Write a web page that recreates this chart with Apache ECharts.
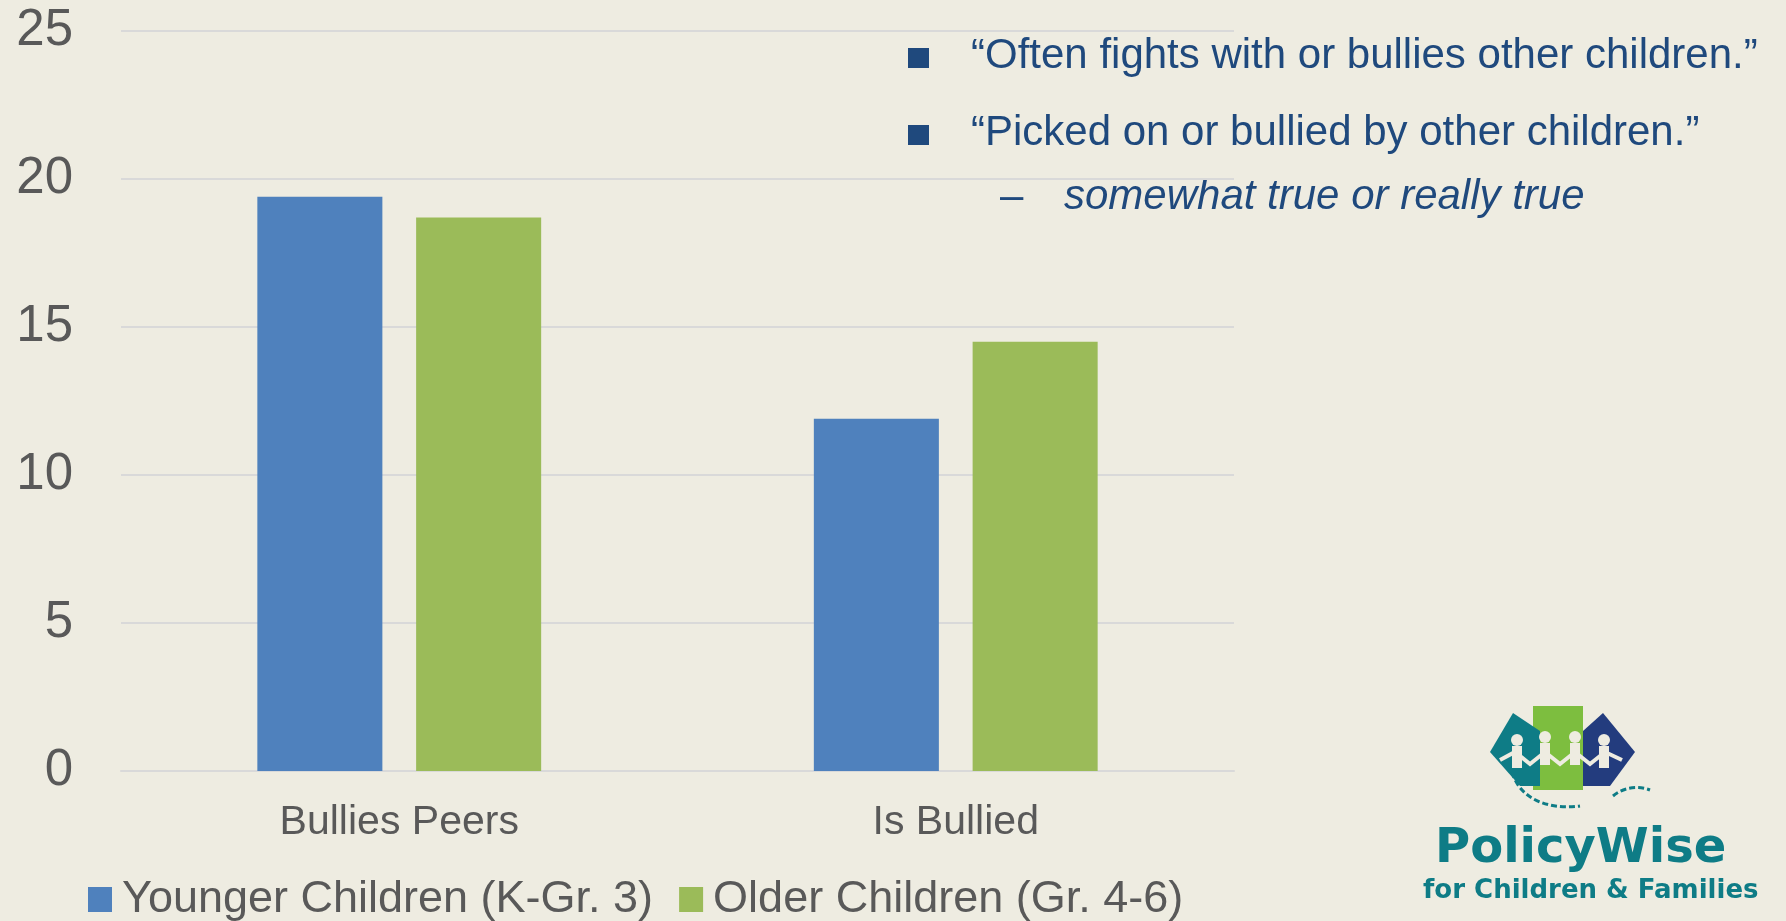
<!DOCTYPE html>
<html>
<head>
<meta charset="utf-8">
<script src="https://cdn.jsdelivr.net/npm/echarts@6/dist/echarts.min.js"></script>
<style>
  html, body { margin: 0; padding: 0; background: #EEECE1; }
  #chart { width: 1786px; height: 921px; }
</style>
</head>
<body>
<div id="chart"></div>
<script>
var categories = ['Bullies Peers', 'Is Bullied'];
var seriesNames = ['Younger Children (K-Gr. 3)', 'Older Children (Gr. 4-6)'];
var younger = [19.4, 11.9];
var older = [18.7, 14.5];
var yMin = 0, yMax = 25, yStep = 5;

var notes = [
  '\u201COften fights with or bullies other children.\u201D',
  '\u201CPicked on or bullied by other children.\u201D'
];
var subNote = 'somewhat true or really true';

var chartDom = document.getElementById('chart');
var myChart = echarts.init(chartDom);

var txtFont = '"Liberation Sans", Arial, sans-serif';
var navy = '#1F497D';
var teal = '#0E7C86';

var option = {
  backgroundColor: '#EEECE1',
  animation: false,
  grid: { left: 121, right: 552, top: 31, bottom: 150 },
  legend: {
    left: 83,
    top: 872,
    itemWidth: 24,
    itemHeight: 25,
    itemGap: 26,
    icon: 'rect',
    textStyle: { fontFamily: txtFont, fontSize: 45, color: '#595959', padding: [0, 0, 0, 5] },
    data: seriesNames
  },
  xAxis: {
    type: 'category',
    data: categories,
    axisLine: { lineStyle: { color: '#D9D9D9', width: 2 } },
    axisTick: { show: false },
    axisLabel: { fontFamily: txtFont, fontSize: 41, color: '#595959', margin: 31 }
  },
  yAxis: {
    type: 'value',
    min: yMin,
    max: yMax,
    interval: yStep,
    axisLine: { show: false },
    axisTick: { show: false },
    splitLine: { lineStyle: { color: '#D9D9D9', width: 2 } },
    axisLabel: { fontFamily: txtFont, fontSize: 51, color: '#595959', margin: 48 }
  },
  series: [
    {
      name: seriesNames[0],
      type: 'bar',
      data: younger,
      color: '#4F81BD',
      barGap: '27%',
      barCategoryGap: '49%'
    },
    {
      name: seriesNames[1],
      type: 'bar',
      data: older,
      color: '#9BBB59'
    }
  ],
  graphic: [
    // bullet notes
    { type: 'rect', shape: { x: 908, y: 48, width: 21, height: 20 }, style: { fill: navy } },
    { type: 'rect', shape: { x: 908, y: 125, width: 21, height: 20 }, style: { fill: navy } },
    { type: 'text', x: 971, y: 56, style: { text: notes[0], font: '42px ' + txtFont, fill: navy, verticalAlign: 'middle' } },
    { type: 'text', x: 971, y: 133, style: { text: notes[1], font: '42px ' + txtFont, fill: navy, verticalAlign: 'middle' } },
    { type: 'text', x: 1000, y: 197, style: { text: '\u2013', font: '42px ' + txtFont, fill: navy, verticalAlign: 'middle' } },
    { type: 'text', x: 1064, y: 197, style: { text: subNote, font: 'italic 42px ' + txtFont, fill: navy, verticalAlign: 'middle' } },

    // logo mark
    { type: 'rect', shape: { x: 1533, y: 706, width: 50, height: 84 }, style: { fill: '#7DBE3F' } },
    { type: 'polygon', shape: { points: [[1513, 713], [1540, 731], [1540, 786], [1520, 786], [1490, 752]] }, style: { fill: teal } },
    { type: 'polygon', shape: { points: [[1603, 713], [1583, 731], [1583, 786], [1610, 786], [1635, 752]] }, style: { fill: '#233C7E' } },
    { type: 'polyline', shape: { points: [[1500, 760], [1515, 752], [1530, 764], [1545, 752], [1560, 764], [1575, 752], [1590, 764], [1605, 752], [1622, 760]] }, style: { stroke: '#EEECE1', lineWidth: 4, fill: null } },
    { type: 'circle', shape: { cx: 1517, cy: 740, r: 6 }, style: { fill: '#EEECE1' } },
    { type: 'circle', shape: { cx: 1545, cy: 737, r: 6 }, style: { fill: '#EEECE1' } },
    { type: 'circle', shape: { cx: 1575, cy: 737, r: 6 }, style: { fill: '#EEECE1' } },
    { type: 'circle', shape: { cx: 1604, cy: 740, r: 6 }, style: { fill: '#EEECE1' } },
    { type: 'rect', shape: { x: 1512, y: 746, width: 10, height: 22 }, style: { fill: '#EEECE1' } },
    { type: 'rect', shape: { x: 1540, y: 743, width: 10, height: 22 }, style: { fill: '#EEECE1' } },
    { type: 'rect', shape: { x: 1570, y: 743, width: 10, height: 22 }, style: { fill: '#EEECE1' } },
    { type: 'rect', shape: { x: 1599, y: 746, width: 10, height: 22 }, style: { fill: '#EEECE1' } },
    { type: 'bezierCurve', shape: { x1: 1512, y1: 772, cpx1: 1520, cpy1: 800, cpx2: 1550, cpy2: 810, x2: 1580, y2: 806 }, style: { stroke: teal, lineWidth: 3, fill: null, lineDash: [6, 3] } },
    { type: 'bezierCurve', shape: { x1: 1613, y1: 796, cpx1: 1625, cpy1: 786, cpx2: 1640, cpy2: 786, x2: 1650, y2: 790 }, style: { stroke: teal, lineWidth: 3, fill: null, lineDash: [6, 3] } },

    // logo text
    { type: 'text', x: 1435, y: 850, style: { text: 'PolicyWise', font: 'bold 48px "DejaVu Sans", sans-serif', fill: teal, verticalAlign: 'middle' } },
    { type: 'text', x: 1423, y: 891, style: { text: 'for Children & Families', font: 'bold 26px "DejaVu Sans", sans-serif', fill: teal, verticalAlign: 'middle' } }
  ]
};

option && myChart.setOption(option);
</script>
</body>
</html>
